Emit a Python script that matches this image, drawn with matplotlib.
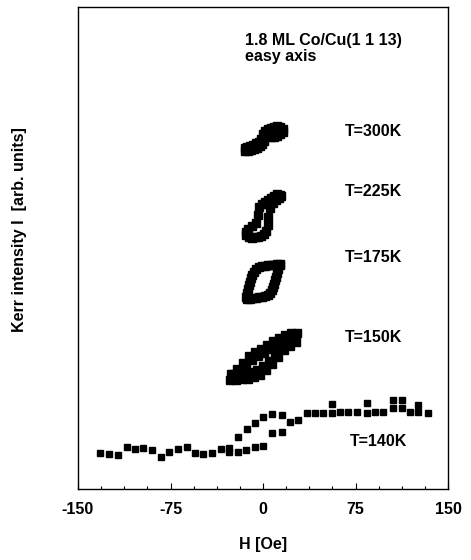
import matplotlib
matplotlib.use("Agg")
import matplotlib.pyplot as plt
from matplotlib.ticker import MultipleLocator

plt.rcParams['font.family'] = ['Liberation Sans', 'DejaVu Sans']
plt.rcParams['font.weight'] = 'bold'

# --- data (H in Oe, Kerr intensity in arb. units) ---
# T = 300K
h300_down = [16.2, 13.8, 11.4, 8.9, 6.5, 4.1, 1.6, 0.0, -1.6, -3.2, -5.7, -8.1, -10.5, -13.0, -14.6]
k300_down = [360, 362, 363, 362, 361, 360, 358, 355, 350, 347, 346, 344, 343, 342, 341]
h300_up = [-14.6, -12.2, -9.7, -7.3, -4.9, -2.4, -0.8, 0.8, 1.6, 2.4, 4.1, 6.5, 8.9, 11.4, 13.8, 16.2]
k300_up = [338, 338, 339, 340, 341, 343, 345, 348, 352, 355, 353, 352, 352, 353, 355, 357]

# T = 225K
h225_down = [13.8, 11.4, 8.9, 6.5, 4.1, 1.6, -0.8, -3.2, -4.1, -5.7, -8.9, -12.2, -13.8]
k225_down = [294, 295, 293, 291, 289, 287, 285, 282, 274, 266, 263, 260, 257]
h225_up = [-13.8, -11.4, -8.9, -6.5, -4.1, -1.6, 0.8, 2.4, 4.1, 4.1, 5.7, 8.1, 10.5, 13.0, 14.6]
k225_up = [254, 252, 251, 252, 252, 253, 255, 258, 264, 272, 281, 286, 289, 291, 293]

# T = 175K
h175_down = [13.8, 11.4, 8.9, 6.5, 4.1, 1.6, -0.8, -3.2, -5.7, -7.3, -8.9, -9.7, -10.5, -11.4, -12.2, -13.0, -13.8]
k175_down = [225, 225, 224, 224, 224, 223, 223, 222, 220, 217, 214, 211, 207, 204, 200, 196, 192]
h175_up = [-13.0, -10.5, -8.1, -5.7, -3.2, -0.8, 1.6, 4.1, 5.7, 7.3, 8.1, 8.9, 9.7, 10.5, 11.4, 12.2, 13.8]
k175_up = [190, 190, 191, 191, 192, 192, 193, 194, 196, 199, 202, 205, 209, 212, 216, 220, 224]

# T = 150K
h150_down = [27.6, 25.1, 22.7, 20.3, 17.8, 15.4, 13.0, 10.5, 8.1, 5.7, 3.2, 0.8, -1.6, -4.1, -6.5,
             -8.9, -11.4, -13.8, -16.2, -18.6, -21.1, -23.5, -25.9]
k150_down = [156, 150, 156, 149, 154, 147, 151, 144, 148, 140, 144, 136, 140, 133, 137,
             129, 133, 124, 126, 117, 120, 111, 115]
h150_up = [-26.8, -24.3, -21.9, -19.5, -17.0, -14.6, -12.2, -9.7, -7.3, -4.9, -2.4, 0.0, 2.4, 4.9,
           7.3, 9.7, 12.2, 14.6, 17.0, 19.5, 21.9, 24.3, 26.8]
k150_up = [109, 115, 109, 116, 110, 116, 110, 117, 112, 119, 114, 123, 119, 128,
           125, 135, 132, 142, 139, 147, 143, 151, 147]

# T = 140K
h140_up = [-132.2, -124.6, -117.3, -110.5, -103.8, -97.1, -90.2, -82.9, -76.0, -68.7, -61.9, -55.1,
           -48.4, -41.6, -34.3, -27.3, -20.5, -13.8, -6.5, 0.2, 7.1, 15.2, 21.9, 28.6, 35.4, 42.2,
           48.9, 55.7, 62.4, 69.2, 76.0, 84.1, 90.8, 97.6, 105.6, 112.5, 119.2, 125.9, 134.0]
k140_up = [36.3, 35, 34, 42.3, 39.7, 40.7, 39, 32.3, 37.3, 39.7, 41.7, 35.7,
           35, 36.3, 39.7, 37.3, 37.3, 39, 42.3, 43.3, 55.7, 57.3, 67.3, 69, 75.7, 76.3,
           75.7, 75.7, 77.3, 76.7, 76.7, 75.7, 77.3, 77.3, 80.7, 80.7, 77.3, 77.3, 75.7]
h140_down = [125.9, 112.5, 105.6, 84.1, 55.7, 15.2, 7.1, 0.2, -6.5, -13.2, -20.0, -27.3]
k140_down = [84, 89, 89, 85.7, 85, 74, 74.7, 71.7, 66.3, 59.7, 51.7, 41.3]

temp_labels = ["T=300K", "T=225K", "T=175K", "T=150K", "T=140K"]
label_h = [66.5, 66.5, 66.5, 66.5, 70.5]
label_k = [357, 297, 231, 152, 47]

loops = [
    (h300_down, k300_down, h300_up, k300_up),
    (h225_down, k225_down, h225_up, k225_up),
    (h175_down, k175_down, h175_up, k175_up),
    (h150_down, k150_down, h150_up, k150_up),
]

fig = plt.figure(figsize=(4.71, 5.60), dpi=100)
ax = fig.add_axes([78 / 471, 1 - 489 / 560, 370 / 471, 482 / 560])

# the small loops are dense blobs in the original, so bigger squares there
for hd, kd, hu, ku in loops:
    ax.plot(hd, kd, ls='none', marker='s', ms=5.6, color='black', mec='black')
    ax.plot(hu, ku, ls='none', marker='s', ms=5.6, color='black', mec='black')

ax.plot(h140_down, k140_down, ls='none', marker='s', ms=4.3, color='black')
ax.plot(h140_up, k140_up, ls='none', marker='s', ms=4.3, color='black')

for lab, x, y in zip(temp_labels, label_h, label_k):
    ax.text(x, y, lab, fontsize=11.5, fontweight='bold', ha='left', va='center')

ax.text(-14.6, 449, "1.8 ML Co/Cu(1 1 13)", fontsize=11.5, fontweight='bold', ha='left', va='center')
ax.text(-14.6, 433, "easy axis", fontsize=11.5, fontweight='bold', ha='left', va='center')

ax.set_xlim(-150, 150)
ax.set_ylim(0, 482)
ax.set_xticks([-150, -75, 0, 75, 150])
ax.set_xticklabels(["-150", "-75", "0", "75", "150"], fontsize=11.5, fontweight='bold')
ax.xaxis.set_minor_locator(MultipleLocator(18.75))
ax.tick_params(axis='x', which='major', direction='in', length=4, width=0.8, pad=9)
ax.tick_params(axis='x', which='minor', direction='in', length=2, width=0.8)
ax.set_yticks([])
for sp in ax.spines.values():
    sp.set_linewidth(1.0)

ax.set_xlabel("H [Oe]", fontsize=11.5, fontweight='bold', labelpad=15)
fig.text(20 / 471, 1 - 230 / 560, "Kerr intensity I  [arb. units]", rotation=90,
         fontsize=11.5, fontweight='bold', ha='center', va='center')

plt.savefig("out.png", dpi=100)
